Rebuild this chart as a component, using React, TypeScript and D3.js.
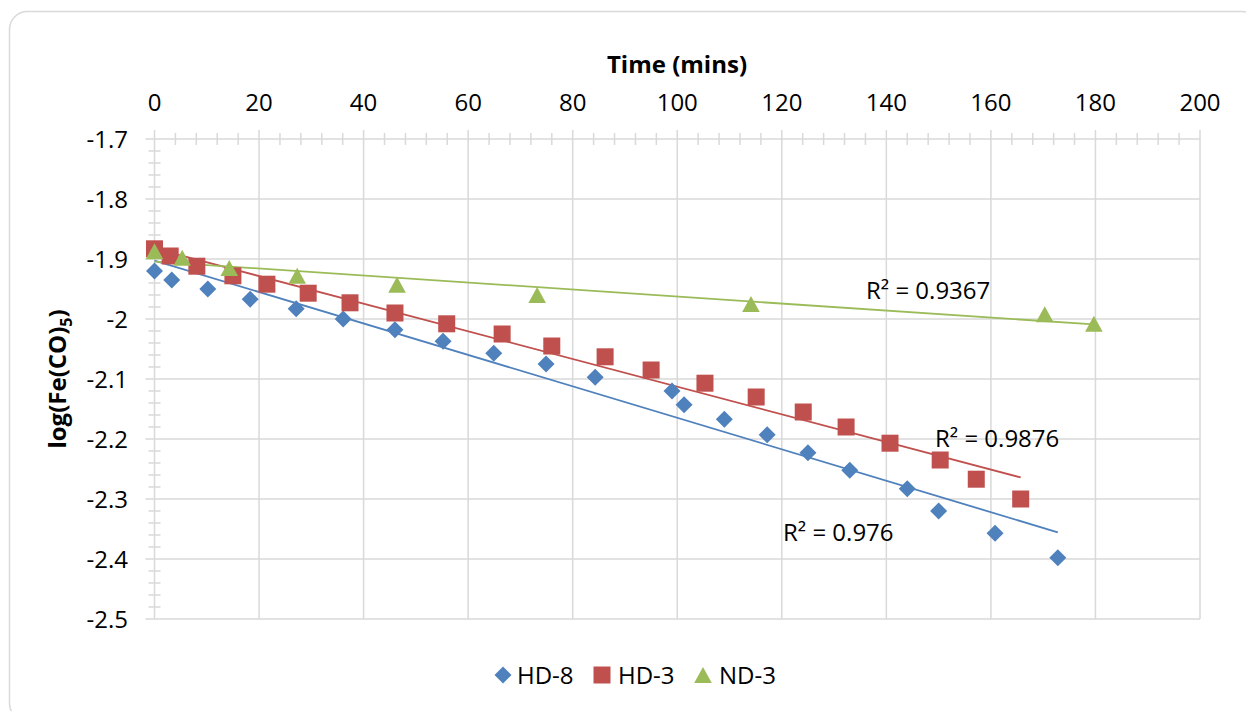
import React from "react";
import * as d3 from "d3";

// ---- Data ----
const hd8Time = [0, 3.3, 10.2, 18.3, 27.1, 36.1, 46, 55.2, 64.9, 74.9, 84.3, 99, 101.3, 109, 117.2, 125, 133, 144, 150, 160.8, 172.8];
const hd8Log = [-1.92, -1.935, -1.95, -1.967, -1.983, -2.0, -2.018, -2.037, -2.057, -2.075, -2.097, -2.12, -2.143, -2.167, -2.193, -2.223, -2.252, -2.283, -2.32, -2.357, -2.398];

const hd3Time = [0, 3, 8.1, 15, 21.5, 29.4, 37.4, 46, 55.9, 66.5, 76, 86.2, 95, 105.3, 115.1, 124.1, 132.3, 140.7, 150.3, 157.2, 165.7];
const hd3Log = [-1.883, -1.895, -1.912, -1.928, -1.942, -1.957, -1.973, -1.99, -2.008, -2.025, -2.045, -2.063, -2.085, -2.107, -2.13, -2.155, -2.18, -2.207, -2.235, -2.267, -2.3];

const nd3Time = [0, 5.3, 14.3, 27.3, 46.4, 73.2, 114.1, 170.3, 179.7];
const nd3Log = [-1.887, -1.898, -1.915, -1.928, -1.943, -1.96, -1.975, -1.992, -2.008];

const xTicks = [0, 20, 40, 60, 80, 100, 120, 140, 160, 180, 200];
const yTicks = [-1.7, -1.8, -1.9, -2, -2.1, -2.2, -2.3, -2.4, -2.5];

const seriesNames = ["HD-8", "HD-3", "ND-3"];
const r2Labels = ["R² = 0.976", "R² = 0.9876", "R² = 0.9367"];

const BLUE = "#4F81BD";
const RED = "#C0504D";
const GREEN = "#9BBB59";
const GRID = "#d9d9d9";
const FONT = "'Open Sans', sans-serif";

function regression(xs: number[], ys: number[]) {
  const n = xs.length;
  const mx = d3.mean(xs)!;
  const my = d3.mean(ys)!;
  let sxy = 0, sxx = 0;
  for (let i = 0; i < n; i++) {
    sxy += (xs[i] - mx) * (ys[i] - my);
    sxx += (xs[i] - mx) * (xs[i] - mx);
  }
  const b = sxy / sxx;
  const a = my - b * mx;
  return (x: number) => a + b * x;
}

type Shape = "diamond" | "square" | "triangle";

function Marker({ shape, cx, cy, color }: { shape: Shape; cx: number; cy: number; color: string }) {
  if (shape === "square") {
    return <rect x={cx - 8.5} y={cy - 8.5} width={17} height={17} fill={color} />;
  }
  if (shape === "diamond") {
    const r = 8.5;
    return <path d={`M${cx},${cy - r}L${cx + r},${cy}L${cx},${cy + r}L${cx - r},${cy}Z`} fill={color} />;
  }
  return <path d={`M${cx},${cy - 8}L${cx + 8.8},${cy + 8}L${cx - 8.8},${cy + 8}Z`} fill={color} />;
}

export default function App() {
  const W = 1246;
  const H = 711;
  const left = 154.5;
  const right = 1200;
  const top = 139;
  const bottom = 619;

  const x = d3.scaleLinear().domain([0, 200]).range([left, right]);
  const y = d3.scaleLinear().domain([-1.7, -2.5]).range([top, bottom]);

  const xMinor = d3.range(0, 201, 4).filter((v) => v % 20 !== 0);
  const yMinor = d3.range(0, 41).map((i) => -1.7 - i * 0.02).filter((_, i) => i % 5 !== 0);

  const series = [
    { name: seriesNames[0], t: hd8Time, v: hd8Log, color: BLUE, shape: "diamond" as Shape },
    { name: seriesNames[1], t: hd3Time, v: hd3Log, color: RED, shape: "square" as Shape },
    { name: seriesNames[2], t: nd3Time, v: nd3Log, color: GREEN, shape: "triangle" as Shape },
  ];

  const fmt = (v: number) => String(Math.round(v * 10) / 10);

  const r2Pos = [
    { x: 783, y: 541 },
    { x: 935, y: 447 },
    { x: 866, y: 299 },
  ];

  const legendItems = [
    { mx: 503, tx: 517 },
    { mx: 602, tx: 618 },
    { mx: 703, tx: 719 },
  ];

  return (
    <svg
      width={W}
      height={H}
      style={{ position: "absolute", left: 0, top: 0, background: "#fff" }}
      fontFamily={FONT}
    >
      <rect x={9.5} y={11.5} width={1250} height={710} rx={18} fill="#fff" stroke={GRID} strokeWidth={1.5} />

      {/* gridlines */}
      {xTicks.map((t) => (
        <line key={"gx" + t} x1={x(t)} x2={x(t)} y1={top - 9} y2={bottom} stroke={GRID} strokeWidth={1.5} />
      ))}
      {yTicks.map((t) => (
        <line key={"gy" + t} x1={left - 9} x2={right} y1={y(t)} y2={y(t)} stroke={GRID} strokeWidth={1.5} />
      ))}
      {/* minor ticks */}
      {xMinor.map((t) => (
        <line key={"mx" + t} x1={x(t)} x2={x(t)} y1={top - 6} y2={top + 6} stroke={GRID} strokeWidth={1.5} />
      ))}
      {yMinor.map((t, i) => (
        <line key={"my" + i} x1={left - 6} x2={left + 6} y1={y(t)} y2={y(t)} stroke={GRID} strokeWidth={1.5} />
      ))}

      {/* tick labels */}
      {xTicks.map((t) => (
        <text key={"lx" + t} x={x(t)} y={111} textAnchor="middle" fontSize={24} fill="#000">
          {t}
        </text>
      ))}
      {yTicks.map((t) => (
        <text key={"ly" + t} x={128} y={y(t) + 8.5} textAnchor="end" fontSize={24} fill="#000">
          {fmt(t)}
        </text>
      ))}

      {/* axis titles */}
      <text x={677} y={73} textAnchor="middle" fontSize={24} fontWeight="bold" fill="#000">
        Time (mins)
      </text>
      <text
        transform={`translate(66, ${(top + bottom) / 2}) rotate(-90)`}
        textAnchor="middle"
        fontSize={24}
        fontWeight="bold"
        fill="#000"
      >
        log(Fe(CO)
        <tspan fontSize={16} dy={6}>5</tspan>
        <tspan dy={-6}>)</tspan>
      </text>

      {/* trendlines */}
      {series.map((s) => {
        const f = regression(s.t, s.v);
        const t0 = d3.min(s.t)!;
        const t1 = d3.max(s.t)!;
        return (
          <line
            key={"tr" + s.name}
            x1={x(t0)}
            y1={y(f(t0))}
            x2={x(t1)}
            y2={y(f(t1))}
            stroke={s.color}
            strokeWidth={1.8}
          />
        );
      })}

      {/* points */}
      {series.map((s) => (
        <g key={"pts" + s.name}>
          {s.t.map((t, i) => (
            <Marker key={i} shape={s.shape} cx={x(t)} cy={y(s.v[i])} color={s.color} />
          ))}
        </g>
      ))}

      {/* R² labels */}
      {r2Labels.map((l, i) => (
        <text key={"r2" + i} x={r2Pos[i].x} y={r2Pos[i].y} fontSize={24} fill="#000">
          {l}
        </text>
      ))}

      {/* legend */}
      {series.map((s, i) => (
        <g key={"lg" + s.name}>
          <Marker shape={s.shape} cx={legendItems[i].mx} cy={675} color={s.color} />
          <text x={legendItems[i].tx} y={684} fontSize={24} fill="#000">
            {s.name}
          </text>
        </g>
      ))}
    </svg>
  );
}
